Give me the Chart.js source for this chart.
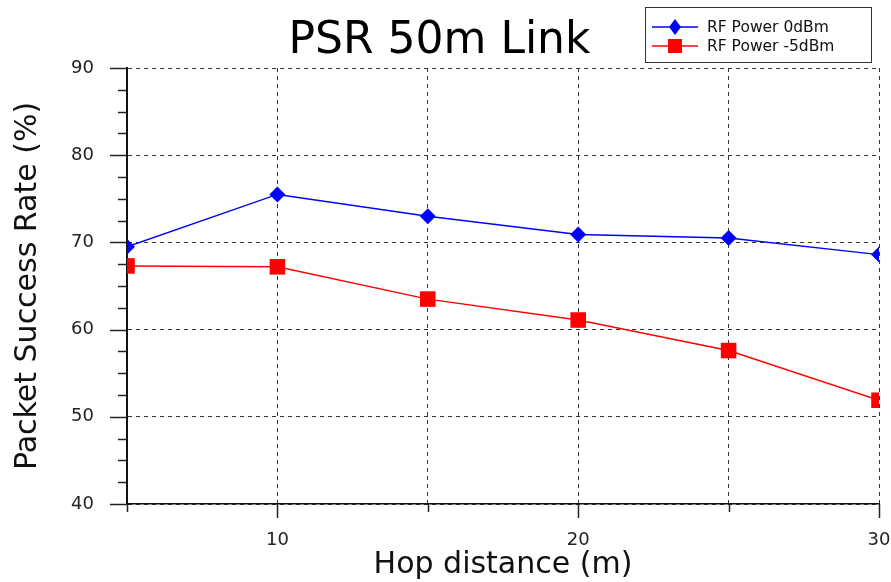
<!DOCTYPE html>
<html>
<head>
<meta charset="utf-8">
<title>PSR 50m Link</title>
<script src="https://cdn.jsdelivr.net/npm/chart.js@4"></script>
<style>
    html, body { margin: 0; padding: 0; background: #fff; }
    #wrap { width: 891px; height: 582px; }
</style>
</head>
<body>
<div id="wrap"><canvas id="chartContainer" width="891" height="582"></canvas></div>
<script>
// chart data
const hopDistance = [5, 10, 15, 20, 25, 30];
const psr0dBm = [69.5, 75.5, 73.0, 70.9, 70.5, 68.6];
const psrMinus5dBm = [67.3, 67.2, 63.5, 61.1, 57.6, 51.9];
const seriesLabels = ['RF Power 0dBm', 'RF Power -5dBm'];
const xTickLabels = [10, 20, 30];
const yTickLabels = [40, 50, 60, 70, 80, 90];

function toPoints(values) {
    return hopDistance.map((x, i) => ({ x: x, y: values[i] }));
}

// draws major / minor tick marks outside the axes
const tickMarks = {
    id: 'tickMarks',
    afterDraw(chart) {
        const ctx = chart.ctx;
        const xs = chart.scales.x, ys = chart.scales.y;
        const area = chart.chartArea;
        ctx.save();
        ctx.strokeStyle = '#222';
        ctx.lineWidth = 1.5;
        xs.ticks.forEach(t => {
            const px = Math.round(xs.getPixelForValue(t.value)) + 0.5;
            const len = xTickLabels.includes(t.value) ? 14 : 8;
            ctx.beginPath();
            ctx.moveTo(px, area.bottom);
            ctx.lineTo(px, area.bottom + len);
            ctx.stroke();
        });
        ys.ticks.forEach(t => {
            const py = Math.round(ys.getPixelForValue(t.value)) + 0.5;
            const len = yTickLabels.includes(t.value) ? 17 : 9;
            ctx.beginPath();
            ctx.moveTo(area.left - len, py);
            ctx.lineTo(area.left, py);
            ctx.stroke();
        });
        ctx.restore();
    }
};

// framed legend in the top right corner
const boxedLegend = {
    id: 'boxedLegend',
    afterDraw(chart) {
        const ctx = chart.ctx;
        const left = 645, top = 7, w = 226, h = 55;
        ctx.save();
        ctx.fillStyle = '#fff';
        ctx.fillRect(left, top, w, h);
        ctx.strokeStyle = '#333';
        ctx.lineWidth = 1;
        ctx.strokeRect(left + 0.5, top + 0.5, w, h);
        ctx.font = '15.5px "DejaVu Sans", sans-serif';
        ctx.textBaseline = 'middle';
        chart.data.datasets.forEach((ds, i) => {
            const cy = top + 20 + i * 19;
            ctx.strokeStyle = ds.borderColor;
            ctx.lineWidth = 1.5;
            ctx.beginPath();
            ctx.moveTo(652, cy);
            ctx.lineTo(698, cy);
            ctx.stroke();
            ctx.fillStyle = ds.pointBackgroundColor;
            ctx.beginPath();
            if (ds.pointStyle === 'rectRot') {
                ctx.moveTo(675, cy - 8);
                ctx.lineTo(681, cy);
                ctx.lineTo(675, cy + 8);
                ctx.lineTo(669, cy);
                ctx.closePath();
            } else {
                ctx.rect(668, cy - 7, 14, 14);
            }
            ctx.fill();
            ctx.fillStyle = '#111';
            ctx.fillText(ds.label, 707, cy + 1);
        });
        ctx.restore();
    }
};

const ctx = document.getElementById('chartContainer').getContext('2d');
const myChart = new Chart(ctx, {
    type: 'line',
    data: {
        datasets: [{
            label: seriesLabels[0],
            data: toPoints(psr0dBm),
            borderColor: '#0000ff',
            backgroundColor: '#0000ff',
            pointBackgroundColor: '#0000ff',
            pointBorderWidth: 0,
            pointStyle: 'rectRot',
            pointRadius: 8,
            borderWidth: 1.4
        }, {
            label: seriesLabels[1],
            data: toPoints(psrMinus5dBm),
            borderColor: '#ff0000',
            backgroundColor: '#ff0000',
            pointBackgroundColor: '#ff0000',
            pointBorderWidth: 0,
            pointStyle: 'rect',
            pointRadius: 11,
            borderWidth: 1.4
        }]
    },
    options: {
        responsive: false,
        animation: false,
        layout: { padding: { left: 0, right: 12, top: 0, bottom: 0 } },
        plugins: {
            legend: { display: false },
            tooltip: { enabled: false },
            title: {
                display: true,
                text: 'PSR 50m Link',
                color: '#000',
                font: { family: '"DejaVu Sans", sans-serif', size: 44, weight: 'normal', lineHeight: 1.0 },
                padding: { top: 20, bottom: 4 }
            }
        },
        scales: {
            x: {
                type: 'linear',
                min: 5,
                max: 30,
                afterFit: scale => {
                    scale.height = 78;
                    scale.paddingLeft = 0;
                    scale.paddingRight = 0;
                },
                ticks: {
                    stepSize: 5,
                    autoSkip: false,
                    maxRotation: 0,
                    padding: 27,
                    color: '#222',
                    font: { family: '"DejaVu Sans", sans-serif', size: 18, lineHeight: 1.0 },
                    callback: v => xTickLabels.includes(v) ? String(v) : ''
                },
                grid: {
                    drawTicks: false,
                    color: '#333',
                    lineWidth: 1
                },
                border: { display: true, color: '#111', width: 1.5, dash: [4, 4] },
                title: {
                    display: true,
                    text: 'Hop distance (m)',
                    color: '#111',
                    font: { family: '"DejaVu Sans", sans-serif', size: 30, lineHeight: 1.0 },
                    padding: { top: 1, bottom: 2 }
                }
            },
            y: {
                min: 40,
                max: 90,
                afterFit: scale => {
                    scale.width = 127;
                },
                ticks: {
                    stepSize: 2.5,
                    autoSkip: false,
                    padding: 33,
                    color: '#222',
                    font: { family: '"DejaVu Sans", sans-serif', size: 18, lineHeight: 1.0 },
                    callback: v => yTickLabels.includes(v) ? String(v) : ''
                },
                grid: {
                    drawTicks: false,
                    color: c => yTickLabels.includes(c.tick.value) ? '#333' : 'transparent',
                    lineWidth: 1
                },
                border: { display: true, color: '#111', width: 2, dash: [4, 4] },
                title: {
                    display: true,
                    text: 'Packet Success Rate (%)',
                    color: '#111',
                    font: { family: '"DejaVu Sans", sans-serif', size: 30, lineHeight: 1.2 },
                    padding: { top: 10, bottom: 25 }
                }
            }
        }
    },
    plugins: [tickMarks, boxedLegend]
});
</script>
</body>
</html>
